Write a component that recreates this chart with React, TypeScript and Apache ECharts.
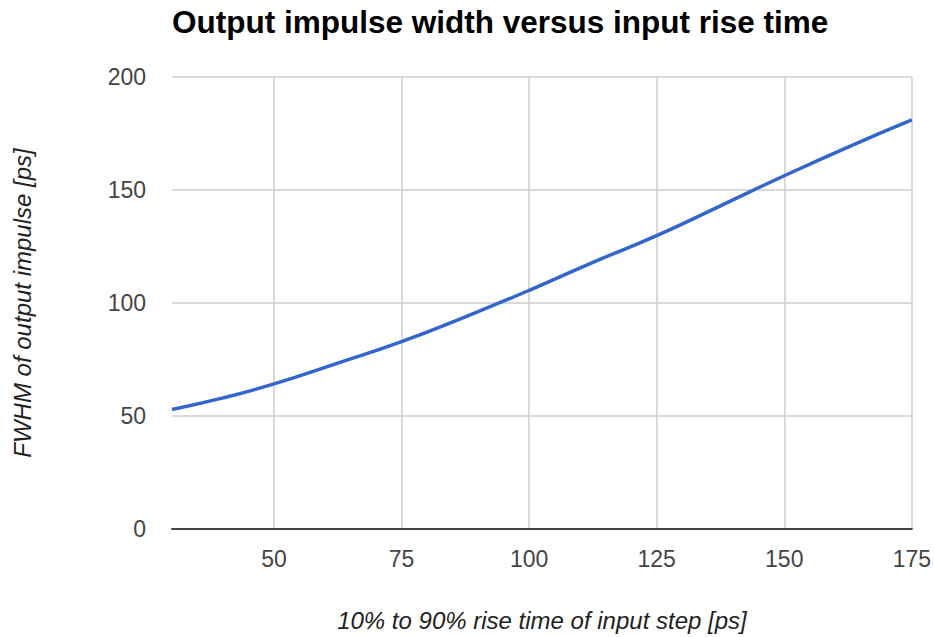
import React, { useEffect, useRef } from "react";
import * as echarts from "echarts";

const riseTimes = [30, 40, 50, 62.5, 75, 87.5, 100, 112.5, 125, 137.5, 150, 162.5, 175];
const fwhmValues = [52.9, 58, 64.2, 73.4, 82.9, 93.9, 105.6, 118, 129.8, 143, 156.3, 169, 181];
const xTickValues = [50, 75, 100, 125, 150, 175];

const titleText = "Output impulse width versus input rise time";
const xName = "10% to 90% rise time of input step [ps]";
const yName = "FWHM of output impulse [ps]";

const FONT = "'Liberation Sans', Arial, sans-serif";

export default function App() {
  const ref = useRef<HTMLDivElement>(null);
  useEffect(() => {
    if (!ref.current) return;
    const chart = echarts.init(ref.current, null, { renderer: "svg" });
    chart.setOption({
      animation: false,
      backgroundColor: "#ffffff",
      title: {
        text: titleText,
        left: 172,
        top: 6,
        padding: 0,
        textStyle: { fontFamily: FONT, fontSize: 31.5, fontWeight: "bold", color: "#000000" },
      },
      grid: { left: 172, right: 22, top: 77, bottom: 105, containLabel: false },
      xAxis: {
        type: "value",
        min: 30,
        max: 175,
        name: xName,
        nameLocation: "middle",
        nameGap: 79,
        nameTextStyle: { fontFamily: FONT, fontSize: 24, fontStyle: "italic", color: "#222222" },
        axisLine: { show: true, lineStyle: { color: "#444444", width: 2 } },
        axisTick: { show: false, customValues: xTickValues },
        axisLabel: {
          customValues: xTickValues,
          margin: 18,
          fontFamily: FONT,
          fontSize: 23,
          color: "#444444",
        },
        splitLine: { show: true, lineStyle: { color: "#cccccc", width: 1.5 } },
      },
      yAxis: {
        type: "value",
        min: 0,
        max: 200,
        interval: 50,
        name: yName,
        nameLocation: "middle",
        nameGap: 138,
        nameRotate: 90,
        nameTextStyle: { fontFamily: FONT, fontSize: 24, fontStyle: "italic", color: "#222222" },
        axisLine: { show: false },
        axisTick: { show: false },
        axisLabel: { margin: 26, fontFamily: FONT, fontSize: 23, color: "#444444" },
        splitLine: { show: true, lineStyle: { color: "#cccccc", width: 1.5 } },
      },
      series: [
        {
          type: "line",
          data: riseTimes.map((x, i) => [x, fwhmValues[i]]),
          smooth: true,
          showSymbol: false,
          lineStyle: { color: "#3366cc", width: 3.5 },
          z: 3,
        },
      ],
    });
    return () => chart.dispose();
  }, []);
  return (
    <div
      ref={ref}
      style={{ position: "fixed", left: 0, top: 0, width: 934, height: 637, background: "#fff" }}
    />
  );
}
